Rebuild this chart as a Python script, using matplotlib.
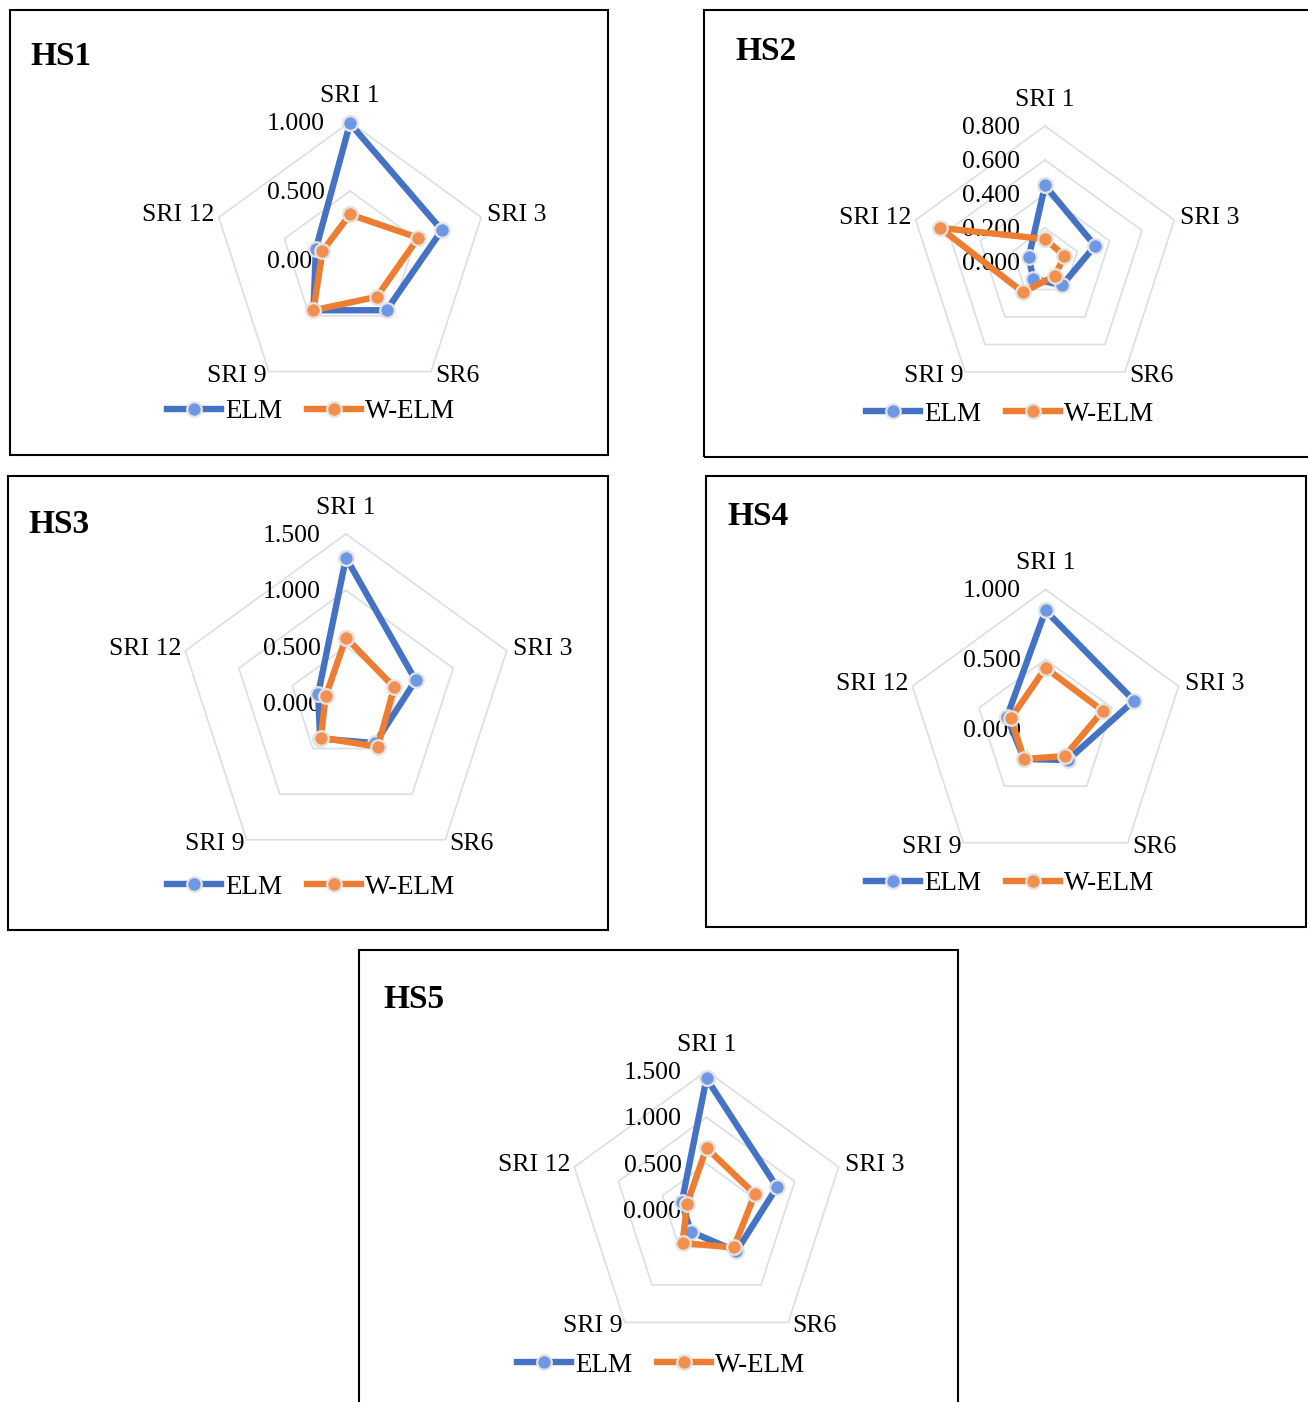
import numpy as np
import matplotlib
matplotlib.use("Agg")
import matplotlib.pyplot as plt
from matplotlib.patches import Rectangle
from matplotlib.lines import Line2D
from matplotlib.transforms import offset_copy

plt.rcParams['font.family'] = ['Liberation Serif', 'DejaVu Serif']

# data
categories = ["SRI 1", "SRI 3", "SR6", "SRI 9", "SRI 12"]
series_names = ["ELM", "W-ELM"]
panel_names = ["HS1", "HS2", "HS3", "HS4", "HS5"]

hs1_elm = [0.99, 0.70, 0.45, 0.45, 0.26]
hs1_welm = [0.33, 0.52, 0.33, 0.45, 0.21]
hs2_elm = [0.45, 0.31, 0.17, 0.12, 0.10]
hs2_welm = [0.135, 0.12, 0.10, 0.22, 0.65]
hs3_elm = [1.29, 0.65, 0.44, 0.39, 0.26]
hs3_welm = [0.58, 0.45, 0.48, 0.38, 0.19]
hs4_elm = [0.85, 0.665, 0.27, 0.26, 0.29]
hs4_welm = [0.44, 0.43, 0.235, 0.26, 0.26]
hs5_elm = [1.42, 0.80, 0.55, 0.29, 0.28]
hs5_welm = [0.67, 0.55, 0.50, 0.44, 0.22]

hs1_ticks = [0.0, 0.5, 1.0]
hs2_ticks = [0.0, 0.2, 0.4, 0.6, 0.8]
hs3_ticks = [0.0, 0.5, 1.0, 1.5]
hs4_ticks = [0.0, 0.5, 1.0]
hs5_ticks = [0.0, 0.5, 1.0, 1.5]

elm_all = [hs1_elm, hs2_elm, hs3_elm, hs4_elm, hs5_elm]
welm_all = [hs1_welm, hs2_welm, hs3_welm, hs4_welm, hs5_welm]
ticks_all = [hs1_ticks, hs2_ticks, hs3_ticks, hs4_ticks, hs5_ticks]

# layout in pixels
W, H = 1308, 1402
boxes = [(10, 10, 608, 455), (704, 10, 1330, 457), (8, 476, 608, 930),
         (706, 476, 1306, 927), (359, 950, 958, 1430)]
centers = [(350, 260, 138), (1045, 262, 136), (346, 703, 169),
           (1045.5, 729.5, 140), (706.5, 1210, 139)]
title_pos = [(30, 65), (735, 60), (28, 533), (727, 525), (383, 1008)]
legend_pos = [(311, 412), (1010, 414), (311, 887), (1010, 884), (661, 1365)]

colors = ["#4472C4", "#ED7D31"]
face_colors = ["#6E98E6", "#F4904F"]
grid_color = "#D9DEE7"

# label placement: (ha, dx, dy) in pixels relative to outer vertex
cat_place = [("center", 0, 26), ("left", 6, 2), ("left", 4, -4),
             ("right", -2, -4), ("right", -4, 2)]

fig = plt.figure(figsize=(W / 100, H / 100), dpi=100)

angles = np.linspace(0, 2 * np.pi, len(categories), endpoint=False)
closed_angles = np.append(angles, angles[0])

for i, name in enumerate(panel_names):
    x0, y0, x1, y1 = boxes[i]
    fig.add_artist(Rectangle((x0 / W, 1 - y1 / H), (x1 - x0) / W, (y1 - y0) / H,
                             transform=fig.transFigure, fill=False,
                             edgecolor="black", linewidth=1.5))
    tx, ty = title_pos[i]
    fig.text(tx / W, 1 - ty / H, name, fontsize=24, fontweight="bold",
             ha="left", va="baseline")

    cx, cy, R = centers[i]
    ax = fig.add_axes([(cx - R) / W, 1 - (cy + R) / H, 2 * R / W, 2 * R / H],
                      projection="polar")
    ax.set_theta_zero_location("N")
    ax.set_theta_direction(-1)
    ticks = ticks_all[i]
    rmax = ticks[-1]
    ax.set_ylim(0, rmax)
    ax.set_axis_off()

    # pentagon grid
    for r in ticks[1:]:
        ax.plot(closed_angles, [r] * len(closed_angles), color=grid_color,
                linewidth=1.2, zorder=1, clip_on=False)

    # radial tick labels
    for r in ticks:
        tr = offset_copy(ax.transData, fig=fig, x=-25, y=-2, units="dots")
        ax.text(0, r, "{:.3f}".format(r), transform=tr, ha="right",
                va="center", fontsize=18.5, clip_on=False, zorder=2)

    # category labels
    for a, lab, (ha, dx, dy) in zip(angles, categories, cat_place):
        tr = offset_copy(ax.transData, fig=fig, x=dx, y=dy, units="dots")
        ax.text(a, rmax, lab, transform=tr, ha=ha, va="center",
                fontsize=18.5, clip_on=False)

    for vals, c, fc, z in zip([elm_all[i], welm_all[i]], colors, face_colors, [3, 4]):
        ax.plot(closed_angles, list(vals) + [vals[0]], color=c, linewidth=4.6,
                marker="o", markersize=10.5, markerfacecolor=fc,
                markeredgecolor="#E3E3E3", markeredgewidth=1.6,
                zorder=z, clip_on=False)

    handles = [Line2D([], [], color=c, linewidth=4.6, marker="o", markersize=10.5,
                      markerfacecolor=fc, markeredgecolor="#E3E3E3",
                      markeredgewidth=1.6)
               for c, fc in zip(colors, face_colors)]
    lx, ly = legend_pos[i]
    fig.legend(handles, series_names, loc="center",
               bbox_to_anchor=(lx / W, 1 - ly / H), ncol=2, frameon=False,
               fontsize=19.5, handlelength=2.0, handletextpad=0.15,
               columnspacing=0.9, numpoints=1, borderpad=0, borderaxespad=0)

fig.savefig("out.png", dpi=100, facecolor="white")
